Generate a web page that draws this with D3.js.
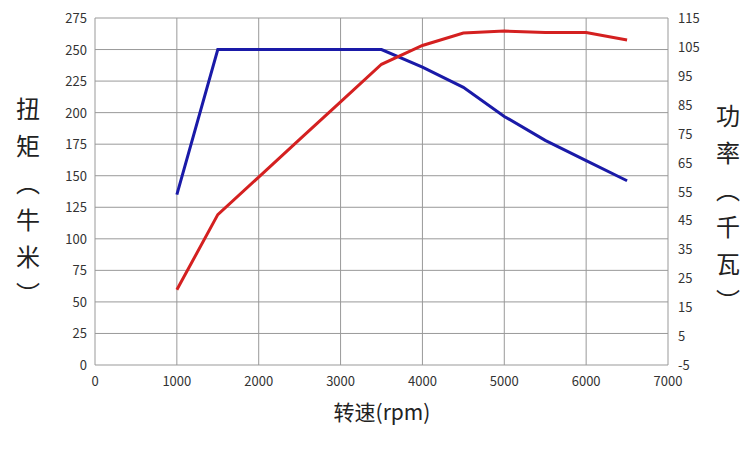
<!DOCTYPE html><html><head><meta charset="utf-8"><script src="https://cdn.jsdelivr.net/npm/d3@7"></script>
<style>body{margin:0;background:#fff}text{font-family:"Noto Sans CJK SC","DejaVu Sans",sans-serif}</style></head><body>
<svg id="c" width="750" height="450"></svg>
<script>
const rpm=[1000,1500,2000,2500,3000,3500,4000,4500,5000,5500,6000,6500];
const torque=[135,250,250,250,250,250,236,220,197,178,162,146];
const powerRpm=[1000,1500,2000,2500,3000,3500,4000,4500,5000,5500,6000,6500];
const power=[21,47,60,73,86,99,105.5,109.8,110.5,110,110,107.4];
const xTicks=[0,1000,2000,3000,4000,5000,6000,7000];
const yTicks=d3.range(0,276,25);
const y2Ticks=d3.range(-5,116,10);
const svg=d3.select("#c");
const L=95,R=668,T=18,B=365;
const x=d3.scaleLinear([0,7000],[L,R]);
const y=d3.scaleLinear([0,275],[B,T]);
const y2=d3.scaleLinear([-5,115],[B,T]);
const g=svg.append("g");
g.selectAll(".v").data(xTicks).join("line").attr("x1",d=>x(d)).attr("x2",d=>x(d)).attr("y1",T).attr("y2",B).attr("stroke","#999");
g.selectAll(".h").data(yTicks).join("line").attr("y1",d=>y(d)).attr("y2",d=>y(d)).attr("x1",L).attr("x2",R).attr("stroke","#999");
const fs="13px";
svg.selectAll(".xt").data(xTicks).join("text").attr("x",d=>x(d)).attr("y",B+21).attr("text-anchor","middle").attr("font-size",fs).attr("fill","#333").text(d=>d);
svg.selectAll(".yt").data(yTicks).join("text").attr("x",L-8).attr("y",d=>y(d)+5).attr("text-anchor","end").attr("font-size",fs).attr("fill","#333").text(d=>d);
svg.selectAll(".y2t").data(y2Ticks).join("text").attr("x",R+10).attr("y",d=>y2(d)+5).attr("text-anchor","start").attr("font-size",fs).attr("fill","#333").text(d=>d);
const line=d3.line();
svg.append("path").attr("d",line(rpm.map((r,i)=>[x(r),y(torque[i])]))).attr("fill","none").attr("stroke","#1a1aa8").attr("stroke-width",3);
svg.append("path").attr("d",line(powerRpm.map((r,i)=>[x(r),y2(power[i])]))).attr("fill","none").attr("stroke","#d42020").attr("stroke-width",3);
svg.append("text").attr("x",382).attr("y",420).attr("text-anchor","middle").attr("font-size","21px").attr("fill","#222").text("转速(rpm)");
const lt=["扭","矩","︵","牛","米","︶"], rt=["功","率","︵","千","瓦","︶"];
svg.selectAll(".lt").data(lt).join("text").attr("x",28).attr("y",(d,i)=>118+i*37).attr("text-anchor","middle").attr("font-size","24px").attr("fill","#222").text(d=>d);
svg.selectAll(".rt").data(rt).join("text").attr("x",728).attr("y",(d,i)=>125+i*37).attr("text-anchor","middle").attr("font-size","24px").attr("fill","#222").text(d=>d);
</script></body></html>
